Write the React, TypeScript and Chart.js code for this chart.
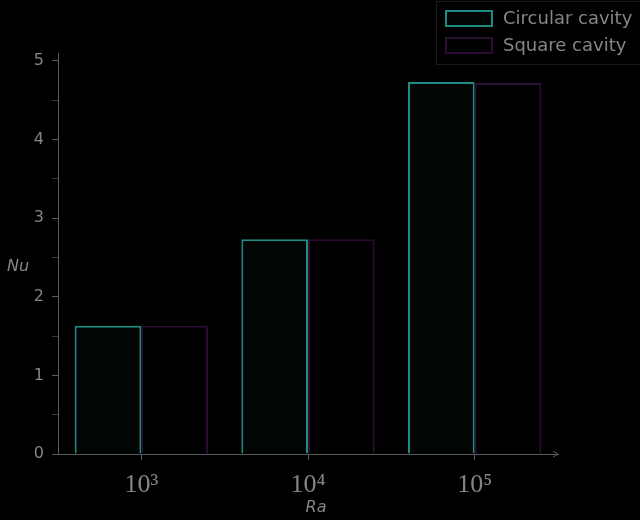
import React, { useEffect, useRef } from "react";
import { Chart, registerables } from "chart.js";

Chart.register(...registerables);

const categories = ["10³", "10⁴", "10⁵"];
const circularValues = [1.63, 2.73, 4.73];
const squareValues = [1.63, 2.73, 4.72];
const seriesNames = ["Circular cavity", "Square cavity"];
const yTickValues = [0, 1, 2, 3, 4, 5];

const TEAL = "#1f8a81";
const TEAL_FILL = "#010605";
const PURPLE = "#2e0d35";
const PURPLE_FILL = "#000000";
const AXIS = "#5a5a5a";
const TEXT = "#858585";

const overlayPlugin = {
  id: "overlay",
  afterDraw(chart: any) {
    const ctx = chart.ctx;
    const area = chart.chartArea;
    ctx.save();
    ctx.strokeStyle = AXIS;
    ctx.lineWidth = 1;
    ctx.beginPath();
    ctx.moveTo(area.right - 5, area.bottom - 3);
    ctx.lineTo(area.right, area.bottom);
    ctx.lineTo(area.right - 5, area.bottom + 3);
    ctx.stroke();
    ctx.fillStyle = TEXT;
    ctx.font = "italic 16px 'DejaVu Sans', sans-serif";
    ctx.textAlign = "center";
    ctx.textBaseline = "middle";
    ctx.fillText("Nu", 18, 267);
    ctx.fillText("Ra", (area.left + area.right) / 2 + 8, 508);
    ctx.strokeStyle = "#1a1a1a";
    ctx.strokeRect(436.5, 1.5, 210, 63);
    const items = [
      { name: seriesNames[0], stroke: TEAL, fill: TEAL_FILL, y: 10 },
      { name: seriesNames[1], stroke: PURPLE, fill: PURPLE_FILL, y: 37 },
    ];
    ctx.font = "18px 'DejaVu Sans', sans-serif";
    ctx.textAlign = "left";
    for (const it of items) {
      ctx.fillStyle = it.fill;
      ctx.fillRect(445, it.y, 48, 17);
      ctx.strokeStyle = it.stroke;
      ctx.lineWidth = 2;
      ctx.strokeRect(446, it.y + 1, 46, 15);
      ctx.fillStyle = TEXT;
      ctx.fillText(it.name, 503, it.y + 9);
    }
    ctx.restore();
  },
};

export default function App() {
  const ref = useRef<HTMLCanvasElement>(null);
  useEffect(() => {
    document.body.style.margin = "0";
    document.body.style.background = "#000";
    const chart = new Chart(ref.current!, {
      type: "bar",
      data: {
        labels: categories,
        datasets: [
          {
            label: seriesNames[0],
            data: circularValues,
            backgroundColor: TEAL_FILL,
            borderColor: TEAL,
            borderWidth: 2,
            categoryPercentage: 0.8,
            barPercentage: 1.0,
          },
          {
            label: seriesNames[1],
            data: squareValues,
            backgroundColor: PURPLE_FILL,
            borderColor: PURPLE,
            borderWidth: 2,
            categoryPercentage: 0.8,
            barPercentage: 1.0,
          },
        ],
      },
      options: {
        responsive: false,
        animation: false,
        devicePixelRatio: 1,
        layout: { padding: { left: 0, right: 82, top: 53, bottom: 0 } },
        plugins: { legend: { display: false }, tooltip: { enabled: false } },
        scales: {
          x: {
            offset: true,
            grid: {
              offset: false,
              drawOnChartArea: false,
              color: AXIS,
              tickLength: 6,
            },
            border: { color: AXIS, width: 1 },
            ticks: {
              color: TEXT,
              padding: 10,
              font: { family: "'Liberation Serif', serif", size: 26 },
            },
            afterFit(scale: any) {
              scale.height = 66;
            },
          },
          y: {
            min: 0,
            max: 5.1,
            grid: {
              drawOnChartArea: false,
              tickLength: 6,
              color: (c: any) =>
                c.tick && Number.isInteger(c.tick.value) ? AXIS : "#3a3a3a",
            },
            border: { color: AXIS, width: 1 },
            afterBuildTicks(scale: any) {
              const t: any[] = [];
              for (const v of yTickValues) {
                t.push({ value: v });
                if (v < 5) t.push({ value: v + 0.5 });
              }
              scale.ticks = t;
            },
            ticks: {
              color: TEXT,
              padding: 8,
              font: { family: "'DejaVu Sans', sans-serif", size: 16 },
              callback: (v: any) =>
                Number.isInteger(v) && yTickValues.includes(v) ? String(v) : "",
            },
            afterFit(scale: any) {
              scale.width = 58;
            },
          },
        },
      },
      plugins: [overlayPlugin],
    });
    return () => chart.destroy();
  }, []);
  return <canvas ref={ref} width={640} height={520} style={{ display: "block" }} />;
}
